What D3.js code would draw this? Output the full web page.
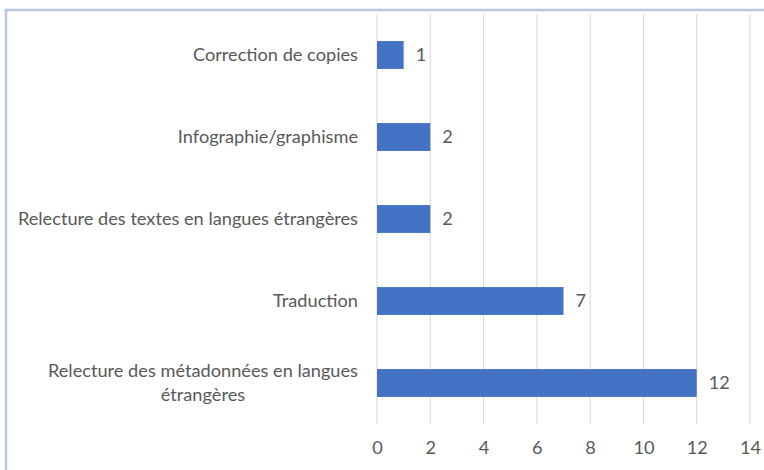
<!DOCTYPE html>
<html><head><meta charset="utf-8">
<script src="https://cdn.jsdelivr.net/npm/d3@7"></script>
<style>body{margin:0;background:#fff}svg{display:block}text{font-family:Lato,"Open Sans",sans-serif;fill:#595959}</style>
</head><body>
<script>
const categories = ["Correction de copies","Infographie/graphisme","Relecture des textes en langues étrangères","Traduction","Relecture des métadonnées en langues étrangères"];
const values = [1,2,2,7,12];
const ticks = [0,2,4,6,8,10,12,14];

const W=764,H=470,FS="18.2px";
const svg=d3.select("body").append("svg").attr("width",W).attr("height",H);
// border
svg.append("path").attr("d",`M6,${H} L6,10 L${W},10`).attr("fill","none").attr("stroke","#b7c8e0").attr("stroke-width",2.5);

const x=d3.scaleLinear().domain([0,14]).range([377,750]);
const y=d3.scaleBand().domain(categories).range([14,424]).paddingInner(0.66).paddingOuter(0.33);

svg.append("g").selectAll("line").data(ticks).join("line")
  .attr("x1",d=>x(d)).attr("x2",d=>x(d)).attr("y1",14).attr("y2",424)
  .attr("stroke","#d9d9d9").attr("stroke-width",1);

const xa=svg.append("g").attr("transform","translate(0,424)").call(d3.axisBottom(x).tickValues(ticks).tickSize(0).tickPadding(17));
xa.select(".domain").remove();
xa.selectAll("text").style("font-size",FS).attr("fill","#595959").style("font-family","Lato,'Open Sans',sans-serif");

svg.append("g").selectAll("rect").data(values).join("rect")
  .attr("x",x(0)).attr("y",(d,i)=>y(categories[i])).attr("width",d=>x(d)-x(0)).attr("height",y.bandwidth())
  .attr("fill","#4472c4");

svg.append("g").selectAll("text").data(values).join("text")
  .attr("x",d=>x(d)+12).attr("y",(d,i)=>y(categories[i])+y.bandwidth()/2).attr("dy","0.35em")
  .style("font-size",FS).text(d=>d);

const lab=svg.append("g");
categories.forEach((c,i)=>{
  const cy=y(c)+y.bandwidth()/2;
  if(c.length>45){
    const l1="Relecture des métadonnées en langues", l2="étrangères";
    const t=lab.append("text").style("font-size",FS).attr("text-anchor","middle");
    const s1=t.append("tspan").text(l1);
    const w=s1.node().getComputedTextLength();
    const cx=358-w/2;
    s1.attr("x",cx).attr("y",cy-12).attr("dy","0.35em");
    t.append("tspan").text(l2).attr("x",cx).attr("y",cy+12).attr("dy","0.35em");
  } else {
    lab.append("text").attr("x",358).attr("y",cy).attr("dy","0.35em").attr("text-anchor","end").style("font-size",FS).text(c);
  }
});
</script>
</body></html>
